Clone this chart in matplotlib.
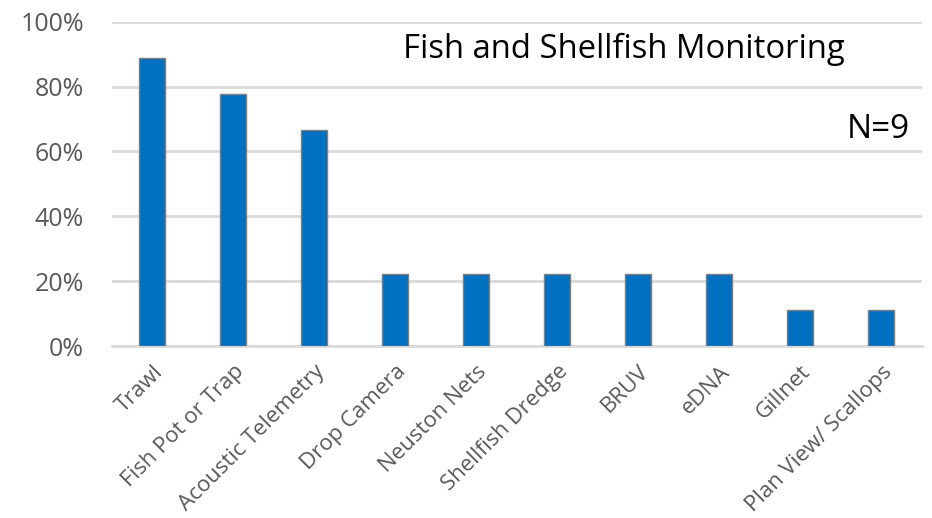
import matplotlib.pyplot as plt
from matplotlib.ticker import PercentFormatter

# Daten
kategorien = ["Trawl", "Fish Pot or Trap", "Acoustic Telemetry", "Drop Camera",
              "Neuston Nets", "Shellfish Dredge", "BRUV", "eDNA", "Gillnet",
              "Plan View/ Scallops"]
anteile = [88.9, 77.8, 66.7, 22.2, 22.2, 22.2, 22.2, 22.2, 11.1, 11.1]
y_ticks = [0, 20, 40, 60, 80, 100]

plt.rcParams["font.family"] = ["Open Sans", "DejaVu Sans"]

fig = plt.figure(figsize=(9.32, 5.18), dpi=100)
ax = fig.add_axes([0.120, 0.332, 0.869, 0.626])

x = range(len(kategorien))
ax.bar(x, anteile, width=0.32, color="#0070C0", edgecolor="#7f7f7f",
       linewidth=1.0, zorder=3)

ax.set_xlim(-0.5, len(kategorien) - 0.5)
ax.set_ylim(0, 100)
ax.set_yticks(y_ticks)
ax.yaxis.set_major_formatter(PercentFormatter(decimals=0))
ax.grid(axis="y", color="#d9d9d9", linewidth=2, zorder=0)

ax.set_xticks(list(x))
ax.set_xticklabels(kategorien, rotation=45, ha="right", rotation_mode="anchor",
                   fontsize=16, color="#595959")
ax.tick_params(axis="y", labelsize=18, labelcolor="#595959", length=0, pad=20)
ax.tick_params(axis="x", length=0, pad=11)

for s in ["top", "right", "left"]:
    ax.spines[s].set_visible(False)
ax.spines["bottom"].set_color("#d9d9d9")
ax.spines["bottom"].set_linewidth(2)

ax.text(0.905, 0.914, "Fish and Shellfish Monitoring", transform=ax.transAxes,
        ha="right", va="center", fontsize=23.7, color="black")
ax.text(0.985, 0.667, "N=9", transform=ax.transAxes, ha="right", va="center",
        fontsize=24, color="black")

fig.savefig("out.png", dpi=100)
